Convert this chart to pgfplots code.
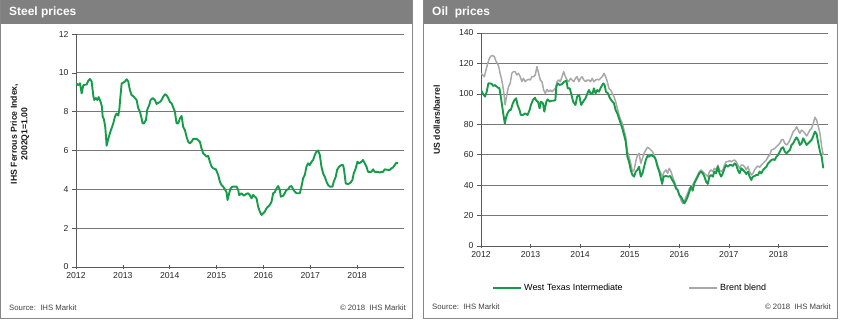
\documentclass[border=0pt]{standalone}
\usepackage{fontspec}
\setmainfont{Liberation Sans}
\usepackage{pgfplots}
\pgfplotsset{compat=1.18}
\usepackage{pgfplotstable}
\definecolor{ihsgreen}{RGB}{22,155,72}
\definecolor{brentgray}{RGB}{168,168,168}
\definecolor{hdrgray}{RGB}{128,128,128}
\definecolor{gridgray}{RGB}{120,120,120}
\definecolor{framegray}{RGB}{135,135,135}

\pgfplotstableread{
x y
2012.000 9.46
2012.050 9.37
2012.085 9.46
2012.121 8.94
2012.156 9.37
2012.227 9.40
2012.263 9.60
2012.299 9.68
2012.334 9.55
2012.370 8.80
2012.391 8.60
2012.426 8.70
2012.455 8.60
2012.483 8.75
2012.526 8.50
2012.554 8.25
2012.569 7.75
2012.597 7.60
2012.625 7.20
2012.654 6.25
2012.689 6.60
2012.725 6.90
2012.760 7.15
2012.796 7.40
2012.832 7.75
2012.867 7.90
2012.903 7.80
2012.924 8.10
2012.938 8.50
2012.974 9.45
2013.009 9.50
2013.045 9.55
2013.080 9.67
2013.116 9.55
2013.151 9.10
2013.187 8.85
2013.222 8.80
2013.294 8.60
2013.329 8.17
2013.365 8.00
2013.400 7.65
2013.421 7.40
2013.450 7.40
2013.493 7.57
2013.521 8.10
2013.564 8.35
2013.592 8.60
2013.635 8.70
2013.684 8.60
2013.720 8.40
2013.756 8.45
2013.791 8.50
2013.827 8.60
2013.862 8.77
2013.898 8.90
2013.933 8.85
2013.969 8.70
2014.004 8.50
2014.040 8.43
2014.111 8.00
2014.146 7.40
2014.182 7.40
2014.217 7.65
2014.253 7.78
2014.289 7.20
2014.324 7.05
2014.360 6.70
2014.395 6.45
2014.431 6.37
2014.466 6.45
2014.502 6.60
2014.573 6.60
2014.644 6.45
2014.679 6.10
2014.715 5.85
2014.751 5.77
2014.786 5.68
2014.822 5.72
2014.857 5.42
2014.893 5.17
2014.928 5.08
2014.985 5.03
2015.035 4.74
2015.070 4.40
2015.106 4.22
2015.141 4.14
2015.177 4.00
2015.213 3.85
2015.234 3.45
2015.269 3.80
2015.298 4.05
2015.340 4.14
2015.390 4.14
2015.426 4.14
2015.461 3.97
2015.483 3.70
2015.532 3.80
2015.582 3.67
2015.625 3.75
2015.674 3.80
2015.710 3.70
2015.746 3.54
2015.781 3.71
2015.817 3.62
2015.852 3.54
2015.888 3.10
2015.923 2.85
2015.959 2.68
2015.994 2.76
2016.030 2.85
2016.065 3.02
2016.137 3.20
2016.172 3.36
2016.208 3.80
2016.243 3.85
2016.279 4.05
2016.314 4.17
2016.350 3.97
2016.371 3.62
2016.421 3.67
2016.456 3.80
2016.492 3.97
2016.527 4.00
2016.563 4.14
2016.598 4.17
2016.634 4.00
2016.670 3.88
2016.705 3.80
2016.776 3.80
2016.812 4.14
2016.847 4.57
2016.883 4.74
2016.918 5.17
2016.954 5.34
2016.989 5.25
2017.025 5.42
2017.060 5.51
2017.096 5.77
2017.131 5.94
2017.167 6.00
2017.203 5.77
2017.238 5.17
2017.274 4.82
2017.309 4.65
2017.345 4.40
2017.380 4.22
2017.416 4.14
2017.473 4.14
2017.501 4.40
2017.544 4.65
2017.572 5.00
2017.615 5.17
2017.664 5.25
2017.700 5.25
2017.721 5.00
2017.757 4.30
2017.807 4.27
2017.856 4.34
2017.899 4.48
2017.927 4.82
2017.970 5.08
2018.006 5.42
2018.041 5.34
2018.091 5.42
2018.126 5.51
2018.162 5.34
2018.198 5.17
2018.233 4.90
2018.304 4.90
2018.340 5.03
2018.375 4.90
2018.446 4.90
2018.482 4.86
2018.517 4.90
2018.553 4.90
2018.588 5.03
2018.659 5.00
2018.695 5.00
2018.731 5.08
2018.766 5.13
2018.802 5.25
2018.837 5.37
2018.873 5.34
}\steel

\pgfplotstableread{
x y
2012.000 102.5
2012.034 100.3
2012.081 98.2
2012.115 101.4
2012.149 106.9
2012.182 106.9
2012.216 106.5
2012.250 105.2
2012.284 105.8
2012.331 104.3
2012.372 103.6
2012.399 98.2
2012.419 93.8
2012.453 86.1
2012.480 80.6
2012.507 84.6
2012.534 87.2
2012.574 89.4
2012.601 89.4
2012.642 93.8
2012.676 96.0
2012.709 97.1
2012.736 92.7
2012.777 89.4
2012.804 86.1
2012.845 86.1
2012.892 87.2
2012.939 86.1
2012.980 89.4
2013.007 92.7
2013.047 96.0
2013.088 97.5
2013.115 95.5
2013.149 94.9
2013.182 90.5
2013.209 94.9
2013.250 93.8
2013.277 88.3
2013.318 94.9
2013.345 96.4
2013.385 94.9
2013.426 95.5
2013.466 95.5
2013.500 96.0
2013.520 104.7
2013.547 106.9
2013.588 105.8
2013.635 106.5
2013.682 108.0
2013.723 108.7
2013.750 103.6
2013.791 103.6
2013.818 100.3
2013.858 94.9
2013.905 92.7
2013.939 98.2
2013.980 99.3
2014.020 92.7
2014.061 94.9
2014.108 97.1
2014.142 99.9
2014.176 102.5
2014.209 100.3
2014.250 100.3
2014.277 103.6
2014.311 100.3
2014.345 102.5
2014.378 101.4
2014.426 104.7
2014.466 106.9
2014.493 105.8
2014.520 101.4
2014.561 100.3
2014.601 97.1
2014.649 94.9
2014.682 93.8
2014.716 89.4
2014.750 87.2
2014.784 83.9
2014.818 80.6
2014.851 77.3
2014.885 73.0
2014.919 68.6
2014.953 58.7
2014.986 55.4
2015.020 50.0
2015.054 46.7
2015.088 45.6
2015.122 48.9
2015.155 50.0
2015.189 52.1
2015.223 45.6
2015.257 47.8
2015.291 52.1
2015.324 56.5
2015.358 59.2
2015.392 58.7
2015.426 59.8
2015.459 59.2
2015.493 58.7
2015.527 56.5
2015.561 52.1
2015.595 48.9
2015.628 44.5
2015.655 40.8
2015.682 45.6
2015.730 46.0
2015.777 45.6
2015.818 46.0
2015.851 43.8
2015.899 41.2
2015.932 37.9
2015.966 36.8
2016.000 33.5
2016.034 32.4
2016.068 30.2
2016.101 28.0
2016.135 29.8
2016.169 32.4
2016.203 35.7
2016.236 39.0
2016.270 36.4
2016.304 41.2
2016.338 43.4
2016.372 45.6
2016.405 47.8
2016.439 48.9
2016.473 47.8
2016.507 45.6
2016.541 42.3
2016.574 40.8
2016.608 45.6
2016.642 46.7
2016.676 45.6
2016.709 48.9
2016.743 47.8
2016.777 52.1
2016.811 47.8
2016.845 45.6
2016.878 47.8
2016.912 51.1
2016.946 53.2
2016.980 52.1
2017.014 53.2
2017.047 53.2
2017.081 52.6
2017.115 54.3
2017.149 53.2
2017.182 50.0
2017.216 47.8
2017.250 51.1
2017.284 50.0
2017.318 48.9
2017.351 47.3
2017.385 48.9
2017.419 45.6
2017.453 43.4
2017.486 45.6
2017.520 46.0
2017.554 46.7
2017.588 46.7
2017.622 48.9
2017.655 47.8
2017.689 50.0
2017.723 51.1
2017.757 52.1
2017.791 54.3
2017.824 55.4
2017.858 56.5
2017.892 57.0
2017.926 56.5
2017.959 58.7
2017.993 59.8
2018.027 62.0
2018.061 64.2
2018.095 64.9
2018.128 62.0
2018.162 60.9
2018.196 62.0
2018.230 63.1
2018.264 66.4
2018.297 67.5
2018.331 69.7
2018.365 71.4
2018.399 69.7
2018.432 66.4
2018.466 67.5
2018.500 70.8
2018.534 68.6
2018.568 66.4
2018.601 67.5
2018.635 68.6
2018.669 69.7
2018.703 72.3
2018.736 75.2
2018.770 73.6
2018.804 67.5
2018.838 62.0
2018.872 58.7
2018.905 51.1
}\wti

\pgfplotstableread{
x y
2012.000 113.5
2012.034 112.4
2012.068 111.3
2012.101 115.7
2012.135 120.1
2012.169 123.4
2012.203 124.9
2012.236 125.1
2012.270 124.5
2012.304 121.2
2012.331 120.1
2012.358 117.9
2012.385 113.5
2012.419 109.1
2012.453 102.5
2012.486 92.7
2012.520 99.3
2012.554 104.7
2012.588 106.9
2012.622 113.5
2012.655 114.6
2012.689 114.6
2012.723 112.4
2012.757 113.5
2012.791 111.3
2012.824 108.0
2012.858 110.2
2012.892 108.0
2012.926 109.1
2012.959 109.6
2012.993 109.1
2013.027 111.3
2013.061 111.3
2013.095 112.4
2013.128 117.9
2013.162 113.5
2013.196 109.1
2013.230 108.0
2013.264 102.5
2013.297 100.3
2013.331 102.9
2013.365 101.4
2013.399 102.5
2013.432 101.4
2013.466 102.5
2013.500 103.6
2013.534 108.0
2013.568 109.1
2013.601 108.0
2013.635 111.3
2013.669 114.6
2013.703 111.3
2013.736 109.1
2013.770 108.0
2013.804 110.2
2013.838 109.1
2013.872 108.0
2013.905 110.2
2013.939 111.3
2013.973 108.0
2014.007 110.2
2014.041 111.3
2014.074 109.1
2014.108 108.0
2014.142 109.1
2014.176 109.1
2014.209 108.0
2014.243 110.2
2014.277 108.0
2014.311 109.1
2014.345 109.6
2014.378 109.1
2014.412 110.2
2014.446 111.3
2014.480 113.5
2014.514 111.3
2014.547 108.0
2014.581 103.6
2014.615 102.5
2014.649 100.3
2014.682 98.2
2014.716 94.9
2014.750 90.5
2014.784 86.1
2014.818 82.8
2014.851 80.6
2014.885 76.2
2014.919 71.9
2014.953 62.0
2014.986 58.7
2015.020 54.3
2015.054 48.9
2015.088 50.0
2015.122 55.4
2015.155 59.8
2015.189 60.9
2015.223 54.3
2015.257 57.6
2015.291 60.9
2015.324 63.1
2015.358 64.9
2015.392 64.2
2015.426 63.1
2015.459 62.0
2015.493 59.8
2015.527 56.5
2015.561 53.2
2015.595 50.0
2015.628 47.8
2015.662 45.6
2015.696 48.9
2015.730 50.0
2015.764 47.8
2015.797 51.1
2015.831 48.9
2015.865 45.6
2015.899 42.3
2015.932 39.0
2015.966 36.8
2016.000 33.5
2016.034 30.2
2016.068 28.0
2016.101 29.1
2016.135 32.4
2016.169 34.6
2016.203 37.9
2016.236 39.0
2016.270 40.1
2016.304 42.3
2016.338 44.5
2016.372 46.7
2016.405 48.9
2016.439 50.0
2016.473 48.9
2016.507 47.8
2016.541 46.7
2016.574 45.6
2016.608 48.9
2016.642 50.0
2016.676 48.9
2016.709 51.1
2016.743 50.0
2016.777 53.2
2016.811 50.0
2016.845 48.9
2016.878 50.0
2016.912 53.2
2016.946 55.4
2016.980 55.4
2017.014 56.1
2017.047 55.4
2017.081 56.1
2017.115 56.5
2017.149 55.4
2017.182 53.2
2017.216 51.1
2017.250 53.2
2017.284 53.2
2017.318 52.1
2017.351 50.0
2017.385 52.1
2017.419 48.9
2017.453 46.7
2017.486 47.8
2017.520 50.0
2017.554 51.7
2017.588 52.6
2017.622 51.7
2017.655 53.2
2017.689 54.3
2017.723 55.4
2017.757 56.5
2017.791 58.7
2017.824 59.8
2017.858 63.1
2017.892 63.5
2017.926 64.2
2017.959 65.3
2017.993 66.4
2018.027 67.5
2018.061 69.7
2018.095 70.1
2018.128 67.5
2018.162 66.4
2018.196 67.5
2018.230 69.7
2018.264 72.3
2018.297 75.2
2018.331 76.2
2018.365 78.4
2018.399 76.2
2018.432 74.1
2018.466 76.2
2018.500 75.2
2018.534 74.1
2018.568 72.3
2018.601 74.1
2018.635 76.2
2018.669 77.3
2018.703 80.6
2018.736 84.6
2018.770 82.8
2018.804 78.4
2018.838 74.1
2018.872 65.3
2018.905 59.8
}\brent

\pgfplotsset{panel/.style={
  scale only axis,
  axis lines*=left,
  axis line style={draw=black!65, line width=0.7bp},
  xmin=2012, xmax=2019, xtick={2012,...,2018},
  /pgf/number format/1000 sep={},
  /pgf/number format/assume math mode=true,
  ymajorgrids,
  grid style={gridgray, line width=0.7bp},
  tick style={black!65, line width=0.6bp},
  xtick align=center,
  ytick align=outside,
  major tick length=4bp,
  tick label style={font=\fontsize{8.7}{10}\selectfont, text=black!85},
  ylabel style={font=\bfseries\fontsize{8.7}{10.5}\selectfont, align=center, text=black!90},
}}

\begin{document}
\begin{tikzpicture}[x=1bp,y=1bp]
\useasboundingbox (0,0) rectangle (842,330);
% panel frames and headers
\fill[hdrgray] (0,306) rectangle (413,330);
\draw[framegray, line width=0.8bp] (0.4,330) -- (0.4,11.2) -- (412.6,11.2) -- (412.6,330);
\fill[hdrgray] (423,306) rectangle (838,330);
\draw[framegray, line width=0.8bp] (423.4,330) -- (423.4,11.2) -- (837.6,11.2) -- (837.6,330);
\node[anchor=west, text=white, font=\bfseries\fontsize{12}{14}\selectfont, inner sep=0] at (9,318) {Steel prices};
\node[anchor=west, text=white, font=\bfseries\fontsize{12}{14}\selectfont, inner sep=0] at (432,318) {Oil\ \ prices};
\node[anchor=west, text=black!75, font=\fontsize{7.8}{9}\selectfont, inner sep=0] at (9,22) {Source:\ \ IHS Markit};
\node[anchor=east, text=black!75, font=\fontsize{7.8}{9}\selectfont, inner sep=0] at (406,22) {© 2018\ \ IHS Markit};
\node[anchor=west, text=black!75, font=\fontsize{7.8}{9}\selectfont, inner sep=0] at (432,23) {Source:\ \ IHS Markit};
\node[anchor=east, text=black!75, font=\fontsize{7.8}{9}\selectfont, inner sep=0] at (831,23) {© 2018\ \ IHS Markit};

\begin{axis}[panel,
  at={(76bp,63bp)}, anchor=south west,
  width=328bp, height=233bp,
  ymin=0, ymax=12, ytick={0,2,...,12},
  ylabel={IHS Ferrous Price Index,\\2002Q1=1.00},
  ylabel style={at={(axis description cs:-0.171,0.571)}, anchor=center},
]
\addplot[ihsgreen, line width=1.9bp, line join=round] table[x=x,y=y] {\steel};
\end{axis}

\begin{axis}[panel,
  at={(481bp,84bp)}, anchor=south west,
  width=347bp, height=213bp,
  ymin=0, ymax=140, ytick={0,20,...,140},
  ylabel={US dollars/barrel},
  ylabel style={at={(axis description cs:-0.127,0.592)}, anchor=center},
  legend columns=2,
  legend style={at={(rel axis cs:0.032,-0.197)}, anchor=west, draw=none, fill=none,
    font=\fontsize{9}{10}\selectfont, inner sep=0pt,
    /tikz/every even column/.append style={column sep=64bp}},
  legend image code/.code={\draw[#1] (0bp,0bp) -- (28bp,0bp);},
]
\addplot[brentgray, line width=1.5bp, line join=round, forget plot] table[x=x,y=y] {\brent};
\addplot[ihsgreen, line width=1.9bp, line join=round] table[x=x,y=y] {\wti};
\addlegendentry{West Texas Intermediate}
\addlegendimage{brentgray, line width=1.5bp}
\addlegendentry{Brent blend}
\end{axis}
\end{tikzpicture}
\end{document}
